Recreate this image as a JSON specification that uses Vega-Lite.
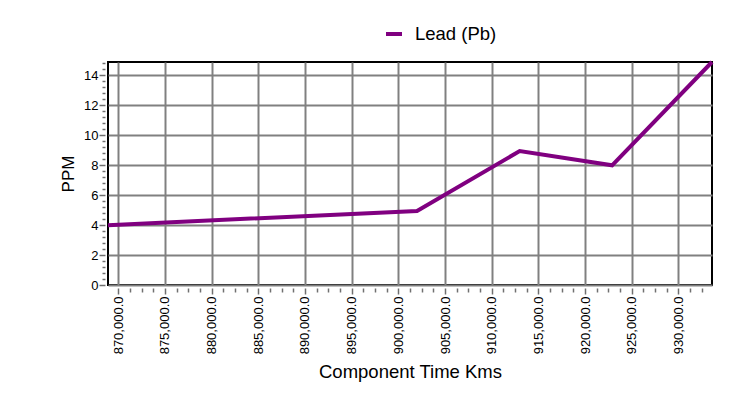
{
  "$schema": "https://vega.github.io/schema/vega-lite/v6.json",
  "width": 604,
  "height": 223,
  "autosize": {"type": "none"},
  "padding": {"left": 108, "top": 62, "right": 26, "bottom": 126},
  "background": "white",
  "data": {
    "values": [
      {"km": 868900, "ppm": 4.0, "series": "Lead (Pb)"},
      {"km": 902000, "ppm": 4.95, "series": "Lead (Pb)"},
      {"km": 913000, "ppm": 8.95, "series": "Lead (Pb)"},
      {"km": 922900, "ppm": 8.0, "series": "Lead (Pb)"},
      {"km": 933600, "ppm": 14.9, "series": "Lead (Pb)"}
    ]
  },
  "mark": {"type": "line", "strokeWidth": 4, "clip": false},
  "encoding": {
    "x": {
      "field": "km",
      "type": "quantitative",
      "scale": {"domain": [868900, 933600], "nice": false, "zero": false},
      "axis": {
        "title": "Component Time Kms",
        "values": [870000, 871250, 872500, 873750, 875000, 876250, 877500, 878750, 880000, 881250, 882500, 883750, 885000, 886250, 887500, 888750, 890000, 891250, 892500, 893750, 895000, 896250, 897500, 898750, 900000, 901250, 902500, 903750, 905000, 906250, 907500, 908750, 910000, 911250, 912500, 913750, 915000, 916250, 917500, 918750, 920000, 921250, 922500, 923750, 925000, 926250, 927500, 928750, 930000, 931250, 932500],
        "labelExpr": "datum.value % 5000 === 0 ? format(datum.value, ',.1f') : ''",
        "labelAngle": -90,
        "labelOverlap": false,
        "labelFlush": false,
        "labelPadding": 2,
        "offset": 3,
        "domain": false,
        "tickSize": {"condition": {"test": "datum.value % 5000 === 0", "value": 6}, "value": 4},
        "gridOpacity": {"condition": {"test": "datum.value % 5000 === 0", "value": 1}, "value": 0},
        "titleFontSize": 18.5,
        "titlePadding": 9
      }
    },
    "y": {
      "field": "ppm",
      "type": "quantitative",
      "scale": {"domain": [0, 14.9], "nice": false, "zero": true},
      "axis": {
        "title": "PPM",
        "values": [0, 0.4, 0.8, 1.2, 1.6, 2, 2.4, 2.8, 3.2, 3.6, 4, 4.4, 4.8, 5.2, 5.6, 6, 6.4, 6.8, 7.2, 7.6, 8, 8.4, 8.8, 9.2, 9.6, 10, 10.4, 10.8, 11.2, 11.6, 12, 12.4, 12.8, 13.2, 13.6, 14, 14.4, 14.8],
        "labelExpr": "abs(datum.value / 2 - round(datum.value / 2)) < 0.001 ? format(datum.value, 'd') : ''",
        "labelOverlap": false,
        "labelFlush": false,
        "labelPadding": 1,
        "offset": 3,
        "domain": false,
        "tickSize": {"condition": {"test": "abs(datum.value / 2 - round(datum.value / 2)) < 0.001", "value": 6}, "value": 3},
        "gridOpacity": {"condition": {"test": "abs(datum.value / 2 - round(datum.value / 2)) < 0.001", "value": 1}, "value": 0},
        "titleFontSize": 17,
        "titlePadding": 6
      }
    },
    "color": {
      "field": "series",
      "type": "nominal",
      "scale": {"range": ["#800080"]},
      "legend": {
        "title": null,
        "orient": "none",
        "legendX": 276,
        "legendY": -38,
        "symbolType": "stroke",
        "symbolStrokeWidth": 4,
        "symbolSize": 256,
        "labelFontSize": 18.5,
        "labelOffset": 11
      }
    }
  },
  "config": {
    "font": "Liberation Sans",
    "view": {"stroke": "black", "strokeWidth": 2},
    "axis": {
      "grid": true,
      "gridColor": "#808080",
      "gridWidth": 2,
      "tickColor": "#707070",
      "tickWidth": 1.5,
      "labelFont": "Liberation Sans",
      "labelFontSize": 13,
      "labelColor": "black",
      "titleFont": "Liberation Sans",
      "titleFontWeight": "normal",
      "titleColor": "black"
    },
    "legend": {
      "labelFont": "Liberation Sans",
      "labelColor": "black"
    }
  }
}
